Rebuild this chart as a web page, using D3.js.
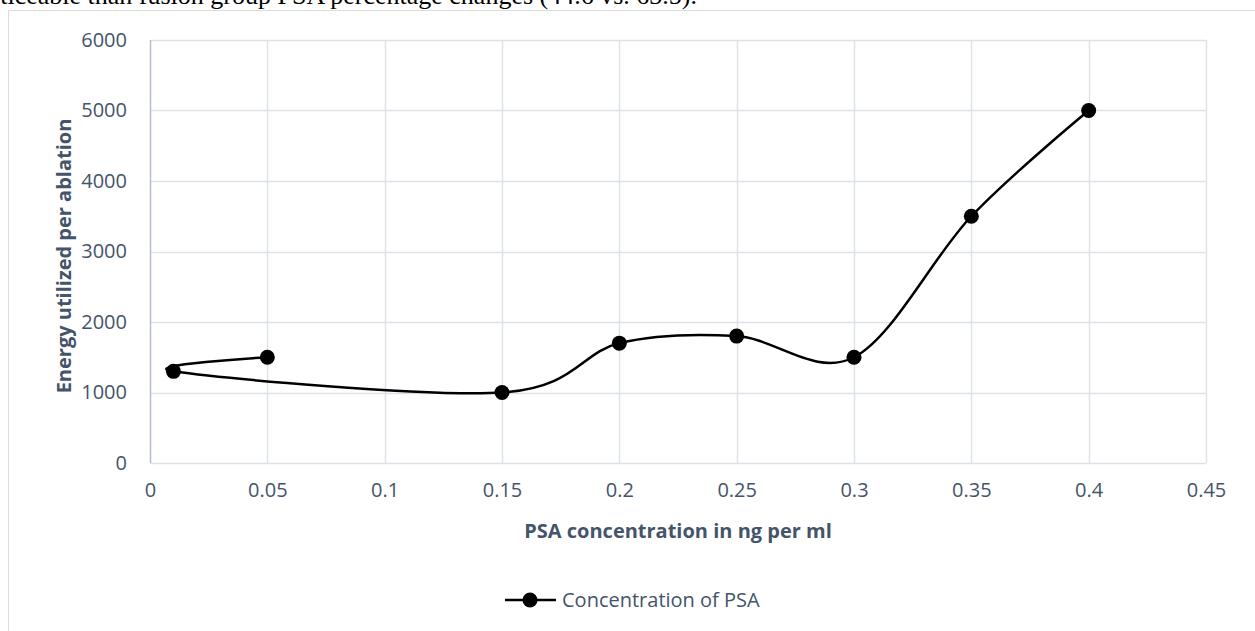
<!DOCTYPE html>
<html><head><meta charset="utf-8">
<script src="https://cdn.jsdelivr.net/npm/d3@7"></script>
<style>body{margin:0;background:#fff}svg{display:block}</style>
</head><body>
<svg id="c" width="1255" height="631"></svg>
<script>
const xValues = [0.05, 0.01, 0.15, 0.2, 0.25, 0.3, 0.35, 0.4];
const yValues = [1500, 1300, 1000, 1700, 1800, 1500, 3500, 5000];
const xTicks = [0, 0.05, 0.1, 0.15, 0.2, 0.25, 0.3, 0.35, 0.4, 0.45];
const yTicks = [0, 1000, 2000, 3000, 4000, 5000, 6000];
const seriesName = "Concentration of PSA";

const svg = d3.select("#c");
const font = "'Open Sans','Noto Sans',sans-serif";
const txt = "#44546A";
const x = d3.scaleLinear().domain([0, 0.45]).range([150, 1206]);
const y = d3.scaleLinear().domain([0, 6000]).range([463, 40]);

// page text and frame
svg.append("text").attr("x", 697).attr("y", 4).attr("text-anchor", "end")
  .attr("font-family", "'Liberation Serif','Times New Roman',serif").attr("font-size", 26)
  .attr("fill", "#000").text("noticeable than fusion group PSA percentage changes (44.6 vs. 63.5).");
svg.append("path").attr("d", "M8.5,631 V10.5 H1255").attr("fill", "none").attr("stroke", "#dcdcdc");

// grid
svg.append("g").selectAll("line").data(yTicks).join("line")
  .attr("x1", 150).attr("x2", 1206).attr("y1", d => Math.round(y(d)) + 0.5).attr("y2", d => Math.round(y(d)) + 0.5)
  .attr("stroke", "#dde1e8").attr("stroke-width", 1.5);
svg.append("g").selectAll("line").data(xTicks.slice(1)).join("line")
  .attr("y1", 40).attr("y2", 463).attr("x1", d => Math.round(x(d)) + 0.5).attr("x2", d => Math.round(x(d)) + 0.5)
  .attr("stroke", "#dde1e8").attr("stroke-width", 1.5);
// left axis line
svg.append("line").attr("x1", 150.5).attr("x2", 150.5).attr("y1", 40).attr("y2", 463)
  .attr("stroke", "#b4bdcc").attr("stroke-width", 1.5);

// axes labels via d3 axes
const yAxis = svg.append("g").attr("transform", "translate(150,0)")
  .call(d3.axisLeft(y).tickValues(yTicks).tickSize(0).tickPadding(23).tickFormat(d3.format("d")));
yAxis.select(".domain").remove();
yAxis.selectAll("text").attr("font-family", font).attr("font-size", 20).attr("fill", txt);

const xAxis = svg.append("g").attr("transform", "translate(0,463)")
  .call(d3.axisBottom(x).tickValues(xTicks).tickSize(0).tickPadding(20).tickFormat(d => String(d)));
xAxis.select(".domain").remove();
xAxis.selectAll("text").attr("font-family", font).attr("font-size", 20).attr("fill", txt);

// titles
svg.append("text").attr("transform", "translate(71,256) rotate(-90)").attr("text-anchor", "middle")
  .attr("font-family", font).attr("font-weight", "bold").attr("font-size", 20).attr("fill", txt)
  .text("Energy utilized per ablation");
svg.append("text").attr("x", 678).attr("y", 538).attr("text-anchor", "middle")
  .attr("font-family", font).attr("font-weight", "bold").attr("font-size", 20).attr("fill", txt)
  .text("PSA concentration in ng per ml");

// series
const pts = xValues.map((v, i) => [v, yValues[i]]);
const line = d3.line().x(d => x(d[0])).y(d => y(d[1])).curve(d3.curveCardinal.tension(0));
svg.append("path").datum(pts).attr("d", line).attr("fill", "none").attr("stroke", "#000").attr("stroke-width", 2.5);
svg.append("g").selectAll("circle").data(pts).join("circle")
  .attr("cx", d => x(d[0])).attr("cy", d => y(d[1])).attr("r", 7.5).attr("fill", "#000");

// legend
svg.append("line").attr("x1", 505).attr("x2", 556).attr("y1", 600).attr("y2", 600).attr("stroke", "#000").attr("stroke-width", 2.5);
svg.append("circle").attr("cx", 530).attr("cy", 600).attr("r", 7.5).attr("fill", "#000");
svg.append("text").attr("x", 562).attr("y", 607).attr("font-family", font).attr("font-size", 20).attr("fill", txt).text(seriesName);
</script>
</body></html>
